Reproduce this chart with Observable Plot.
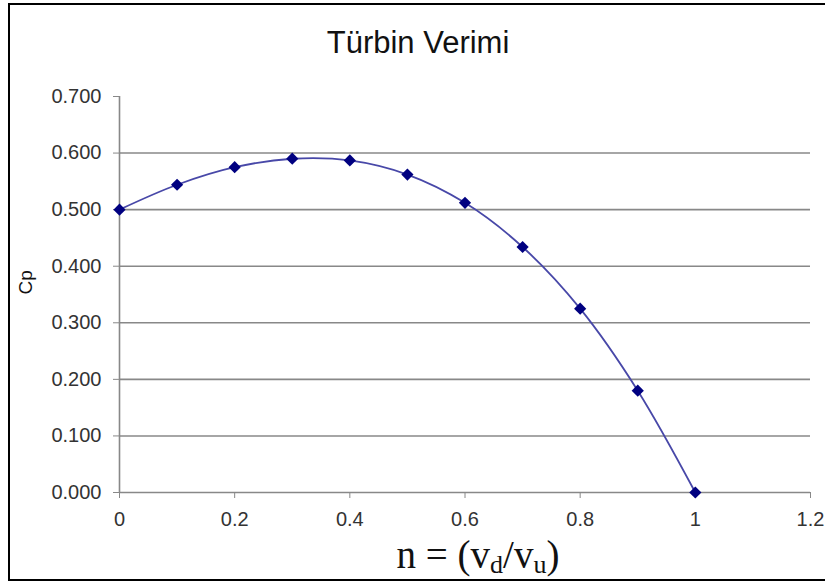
<!DOCTYPE html>
<html>
<head>
<meta charset="utf-8">
<script src="https://cdn.jsdelivr.net/npm/d3@7"></script>
<script src="https://cdn.jsdelivr.net/npm/@observablehq/plot@0.6"></script>
<style>
  html, body { margin: 0; padding: 0; background: #fff; }
  #wrap { position: relative; width: 825px; height: 587px; overflow: hidden; }
  #border { position: absolute; left: 8px; top: 3px; width: 840px; height: 578px; border: 2px solid #000; box-sizing: border-box; }
  #chart { position: absolute; left: 0; top: 0; }
</style>
</head>
<body>
<div id="wrap">
  <div id="border"></div>
  <div id="chart"></div>
</div>
<script>
const title = "Türbin Verimi";
const yLabel = "Cp";
const nValues = [0, 0.1, 0.2, 0.3, 0.4, 0.5, 0.6, 0.7, 0.8, 0.9, 1.0];
const cpValues = [0.500, 0.544, 0.575, 0.590, 0.587, 0.562, 0.512, 0.434, 0.325, 0.180, 0.000];
const xTicks = [0, 0.2, 0.4, 0.6, 0.8, 1, 1.2];
const yTicks = [0, 0.1, 0.2, 0.3, 0.4, 0.5, 0.6, 0.7];
const gridValues = [0.1, 0.2, 0.3, 0.4, 0.5, 0.6];

const data = nValues.map((n, i) => ({n, cp: cpValues[i]}));

const plot = Plot.plot({
  width: 825,
  height: 587,
  marginLeft: 119,
  marginRight: 15,
  marginTop: 96,
  marginBottom: 95,
  style: {fontFamily: "'Liberation Sans', Arial, sans-serif", background: "transparent"},
  x: {domain: [0, 1.2]},
  y: {domain: [0, 0.7]},
  marks: [
    Plot.ruleY(gridValues, {stroke: "#888", strokeWidth: 1.6}),
    Plot.ruleY([0], {x1: 0, x2: 1.2, stroke: "#888", strokeWidth: 1.6}),
    Plot.ruleX([0], {y1: 0, y2: 0.7, stroke: "#888", strokeWidth: 1.6}),
    Plot.axisY({ticks: yTicks, tickFormat: d3.format(".3f"), tickSize: 6, tickPadding: 12, fontSize: 20, stroke: "#888", fill: "#333", label: null}),
    Plot.axisX({ticks: xTicks, tickFormat: d => String(d), tickSize: 6, tickPadding: 13, fontSize: 20, stroke: "#888", fill: "#333", label: null}),
    Plot.line(data, {x: "n", y: "cp", curve: "catmull-rom", stroke: "#4848a8", strokeWidth: 1.8}),
    Plot.dot(data, {x: "n", y: "cp", symbol: "diamond2", r: 5.5, fill: "#000080", stroke: "none"}),
    Plot.text([title], {frameAnchor: "top", dx: -47, dy: -53, fontSize: 31, fill: "#111", lineAnchor: "middle"}),
    Plot.text([yLabel], {frameAnchor: "left", dx: -94, rotate: -90, fontSize: 19, fill: "#111"})
  ]
});

// x-axis label with subscripts, as real text in the SVG
const svg = d3.select(plot);
const t = svg.append("text")
  .attr("x", 478)
  .attr("y", 568)
  .attr("text-anchor", "middle")
  .attr("font-family", "'Liberation Serif', 'Times New Roman', serif")
  .attr("font-size", 39)
  .attr("fill", "#111");
t.append("tspan").text("n = (v");
t.append("tspan").attr("font-size", 26).attr("dy", 5).text("d");
t.append("tspan").attr("dy", -5).text("/v");
t.append("tspan").attr("font-size", 26).attr("dy", 5).text("u");
t.append("tspan").attr("dy", -5).text(")");

document.getElementById("chart").appendChild(plot);
</script>
</body>
</html>
